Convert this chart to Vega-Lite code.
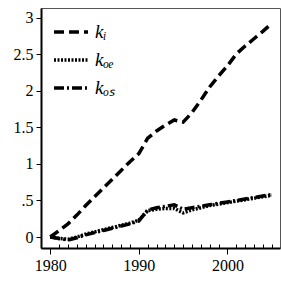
{
  "$schema": "https://vega.github.io/schema/vega-lite/v6.json",
  "width": 239,
  "height": 240,
  "autosize": {"type": "none"},
  "padding": {"left": 41, "top": 8, "right": 1, "bottom": 40},
  "background": "white",
  "config": {
    "view": {"stroke": "#555", "strokeWidth": 1},
    "axis": {"labelFont": "Liberation Serif", "labelFontSize": 16, "labelColor": "black", "domainColor": "black", "tickColor": "black", "grid": false, "title": null, "labelOverlap": false}
  },
  "data": {
    "values": [
      {"year": 1980, "s": "kᵢ", "v": 0.0},
      {"year": 1981, "s": "kᵢ", "v": 0.09},
      {"year": 1982, "s": "kᵢ", "v": 0.18},
      {"year": 1983, "s": "kᵢ", "v": 0.30},
      {"year": 1984, "s": "kᵢ", "v": 0.43},
      {"year": 1985, "s": "kᵢ", "v": 0.55},
      {"year": 1986, "s": "kᵢ", "v": 0.67},
      {"year": 1987, "s": "kᵢ", "v": 0.79},
      {"year": 1988, "s": "kᵢ", "v": 0.91},
      {"year": 1989, "s": "kᵢ", "v": 1.03},
      {"year": 1990, "s": "kᵢ", "v": 1.14},
      {"year": 1991, "s": "kᵢ", "v": 1.35},
      {"year": 1992, "s": "kᵢ", "v": 1.45},
      {"year": 1993, "s": "kᵢ", "v": 1.53},
      {"year": 1994, "s": "kᵢ", "v": 1.60},
      {"year": 1995, "s": "kᵢ", "v": 1.57},
      {"year": 1996, "s": "kᵢ", "v": 1.70},
      {"year": 1997, "s": "kᵢ", "v": 1.87},
      {"year": 1998, "s": "kᵢ", "v": 2.05},
      {"year": 1999, "s": "kᵢ", "v": 2.20},
      {"year": 2000, "s": "kᵢ", "v": 2.34},
      {"year": 2001, "s": "kᵢ", "v": 2.50},
      {"year": 2002, "s": "kᵢ", "v": 2.61},
      {"year": 2003, "s": "kᵢ", "v": 2.71},
      {"year": 2004, "s": "kᵢ", "v": 2.81},
      {"year": 2005, "s": "kᵢ", "v": 2.92},
      {"year": 1980, "s": "kₒₑ", "v": 0.0},
      {"year": 1981, "s": "kₒₑ", "v": -0.02},
      {"year": 1982, "s": "kₒₑ", "v": -0.03},
      {"year": 1983, "s": "kₒₑ", "v": 0.0},
      {"year": 1984, "s": "kₒₑ", "v": 0.04},
      {"year": 1985, "s": "kₒₑ", "v": 0.07},
      {"year": 1986, "s": "kₒₑ", "v": 0.10},
      {"year": 1987, "s": "kₒₑ", "v": 0.13},
      {"year": 1988, "s": "kₒₑ", "v": 0.16},
      {"year": 1989, "s": "kₒₑ", "v": 0.19},
      {"year": 1990, "s": "kₒₑ", "v": 0.23},
      {"year": 1991, "s": "kₒₑ", "v": 0.36},
      {"year": 1992, "s": "kₒₑ", "v": 0.38},
      {"year": 1993, "s": "kₒₑ", "v": 0.39},
      {"year": 1994, "s": "kₒₑ", "v": 0.39},
      {"year": 1995, "s": "kₒₑ", "v": 0.33},
      {"year": 1996, "s": "kₒₑ", "v": 0.37},
      {"year": 1997, "s": "kₒₑ", "v": 0.40},
      {"year": 1998, "s": "kₒₑ", "v": 0.43},
      {"year": 1999, "s": "kₒₑ", "v": 0.45},
      {"year": 2000, "s": "kₒₑ", "v": 0.47},
      {"year": 2001, "s": "kₒₑ", "v": 0.49},
      {"year": 2002, "s": "kₒₑ", "v": 0.51},
      {"year": 2003, "s": "kₒₑ", "v": 0.53},
      {"year": 2004, "s": "kₒₑ", "v": 0.55},
      {"year": 2005, "s": "kₒₑ", "v": 0.57},
      {"year": 1980, "s": "kₒₛ", "v": 0.0},
      {"year": 1981, "s": "kₒₛ", "v": -0.02},
      {"year": 1982, "s": "kₒₛ", "v": -0.04},
      {"year": 1983, "s": "kₒₛ", "v": -0.01},
      {"year": 1984, "s": "kₒₛ", "v": 0.03},
      {"year": 1985, "s": "kₒₛ", "v": 0.06},
      {"year": 1986, "s": "kₒₛ", "v": 0.09},
      {"year": 1987, "s": "kₒₛ", "v": 0.12},
      {"year": 1988, "s": "kₒₛ", "v": 0.15},
      {"year": 1989, "s": "kₒₛ", "v": 0.18},
      {"year": 1990, "s": "kₒₛ", "v": 0.22},
      {"year": 1991, "s": "kₒₛ", "v": 0.37},
      {"year": 1992, "s": "kₒₛ", "v": 0.40},
      {"year": 1993, "s": "kₒₛ", "v": 0.42},
      {"year": 1994, "s": "kₒₛ", "v": 0.44},
      {"year": 1995, "s": "kₒₛ", "v": 0.38},
      {"year": 1996, "s": "kₒₛ", "v": 0.40},
      {"year": 1997, "s": "kₒₛ", "v": 0.42},
      {"year": 1998, "s": "kₒₛ", "v": 0.44},
      {"year": 1999, "s": "kₒₛ", "v": 0.46},
      {"year": 2000, "s": "kₒₛ", "v": 0.48},
      {"year": 2001, "s": "kₒₛ", "v": 0.50},
      {"year": 2002, "s": "kₒₛ", "v": 0.52},
      {"year": 2003, "s": "kₒₛ", "v": 0.54},
      {"year": 2004, "s": "kₒₛ", "v": 0.56},
      {"year": 2005, "s": "kₒₛ", "v": 0.58}
    ]
  },
  "mark": {"type": "line", "color": "black", "strokeWidth": 3.5},
  "encoding": {
    "x": {
      "field": "year", "type": "quantitative",
      "scale": {"domain": [1978.95, 2005.94], "nice": false, "zero": false},
      "axis": {"values": [1980,1981,1982,1983,1984,1985,1986,1987,1988,1989,1990,1991,1992,1993,1994,1995,1996,1997,1998,1999,2000,2001,2002,2003,2004,2005],
        "tickSize": {"condition": {"test": "datum.value % 10 == 0", "value": 6}, "value": -4},
        "labelExpr": "datum.value % 10 == 0 ? datum.label : ''", "format": "d",
        "labelPadding": 3, "domainWidth": 2, "tickWidth": 1}
    },
    "y": {
      "field": "v", "type": "quantitative",
      "scale": {"domain": [-0.15, 3.13], "nice": false, "zero": false},
      "axis": {"values": [0, 0.5, 1, 1.5, 2, 2.5, 3], "labelExpr": "datum.value == 0.5 ? '.5' : format(datum.value, '~g')", "tickSize": 5, "labelPadding": 3, "domainWidth": 2, "tickWidth": 1}
    },
    "strokeDash": {
      "field": "s", "type": "nominal",
      "scale": {"domain": ["kᵢ", "kₒₑ", "kₒₛ"], "range": [[10, 5], [2, 1.5], [10, 3, 2, 3]]},
      "legend": {
        "title": null, "orient": "none", "legendX": 11, "legendY": 14,
        "symbolType": "stroke", "symbolSize": 1156, "symbolStrokeWidth": 3.5, "symbolStrokeColor": "black",
        "clipHeight": 20, "rowPadding": 8, "labelOffset": 5,
        "labelFont": "Liberation Serif", "labelFontStyle": "italic", "labelFontSize": 19, "labelColor": "black"
      }
    }
  }
}
